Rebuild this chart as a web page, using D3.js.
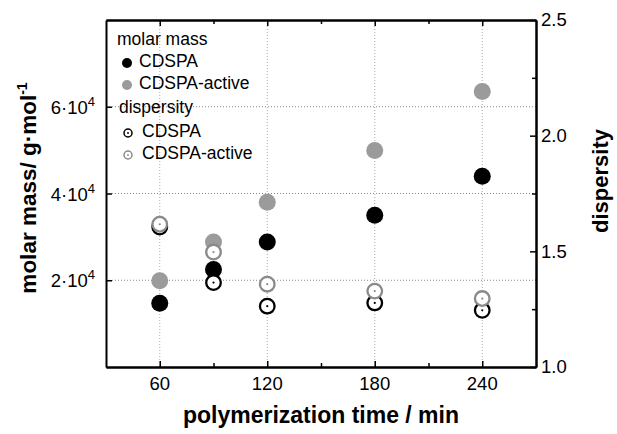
<!DOCTYPE html>
<html>
<head>
<meta charset="utf-8">
<script src="https://cdn.jsdelivr.net/npm/d3@7"></script>
<style>
  body { margin: 0; background: #fff; }
  svg { font-family: "Liberation Sans", Arial, sans-serif; }
  .axis path, .axis line { stroke: #000; }
</style>
</head>
<body>
<div id="chart"></div>
<script>
// data
var times = [60, 90, 120, 180, 240];
var massCDSPA = [14700, 22500, 28800, 35000, 44000];
var massActive = [19900, 28800, 38000, 49900, 63500];
var dispCDSPA = [1.605, 1.365, 1.263, 1.277, 1.245];
var dispActive = [1.617, 1.497, 1.358, 1.328, 1.296];

var xMajor = [60, 120, 180, 240];
var xMinor = [90, 150, 210];
var massTicks = [20000, 40000, 60000];
var dispTicks = [1.0, 1.5, 2.0, 2.5];
var dispMinor = [1.25, 1.75, 2.25];

var W = 617, H = 434;
var margin = {top: 20, right: 81, bottom: 67, left: 106};
var width = W - margin.left - margin.right,
    height = H - margin.top - margin.bottom;

var svg = d3.select("#chart").append("svg")
    .attr("width", W)
    .attr("height", H);

var g = svg.append("g")
    .attr("transform", "translate(" + margin.left + "," + margin.top + ")");

var x = d3.scaleLinear().domain([30, 270]).range([0, width]);
var yL = d3.scaleLinear().domain([0, 80000]).range([height, 0]);
var yR = d3.scaleLinear().domain([1.0, 2.5]).range([height, 0]);

// grid
g.append("g").selectAll("line")
    .data(xMajor)
    .join("line")
    .attr("x1", d => x(d)).attr("x2", d => x(d))
    .attr("y1", 0).attr("y2", height)
    .attr("stroke", "#aaa")
    .attr("stroke-dasharray", "1,2");

g.append("g").selectAll("line")
    .data(massTicks)
    .join("line")
    .attr("x1", 0).attr("x2", width)
    .attr("y1", d => yL(d)).attr("y2", d => yL(d))
    .attr("stroke", "#888")
    .attr("stroke-dasharray", "1,2");

// axes (ticks inward)
function frameAxis(axis, transform) {
    var a = g.append("g")
        .attr("class", "axis")
        .attr("transform", transform)
        .call(axis);
    a.select(".domain").attr("stroke-width", 2);
    a.selectAll(".tick line").attr("stroke-width", 1.5);
    a.selectAll("text").remove();
    return a;
}

frameAxis(d3.axisBottom(x).tickValues(xMajor).tickSize(-6).tickSizeOuter(0), "translate(0," + height + ")");
frameAxis(d3.axisBottom(x).tickValues(xMinor).tickSize(-4).tickSizeOuter(0), "translate(0," + height + ")");
frameAxis(d3.axisTop(x).tickValues(xMajor).tickSize(-6).tickSizeOuter(0), "translate(0,0)");
frameAxis(d3.axisTop(x).tickValues(xMinor).tickSize(-4).tickSizeOuter(0), "translate(0,0)");
frameAxis(d3.axisLeft(yL).tickValues(massTicks).tickSize(-6).tickSizeOuter(0), "translate(0,0)");
frameAxis(d3.axisRight(yR).tickValues(dispTicks).tickSize(-6).tickSizeOuter(0), "translate(" + width + ",0)");
frameAxis(d3.axisRight(yR).tickValues(dispMinor).tickSize(-4).tickSizeOuter(0), "translate(" + width + ",0)");

// tick labels
g.append("g").selectAll("text")
    .data(xMajor)
    .join("text")
    .attr("x", d => x(d))
    .attr("y", height + 23)
    .attr("text-anchor", "middle")
    .style("font-size", "18.5px")
    .text(d => d);

var massLab = g.append("g").selectAll("text")
    .data(massTicks)
    .join("text")
    .attr("x", -11)
    .attr("y", d => yL(d) + 7)
    .attr("text-anchor", "end")
    .style("font-size", "18.5px");
massLab.append("tspan").text(d => (d / 10000) + "\u00b710");
massLab.append("tspan")
    .attr("dy", -8)
    .style("font-size", "13px")
    .text("4");

g.append("g").selectAll("text")
    .data(dispTicks)
    .join("text")
    .attr("x", width + 5)
    .attr("y", d => yR(d))
    .attr("dy", "0.35em")
    .style("font-size", "18.5px")
    .text(d => d3.format(".1f")(d));

// axis titles
svg.append("text")
    .attr("x", 321)
    .attr("y", 423)
    .attr("text-anchor", "middle")
    .style("font-size", "23px")
    .style("font-weight", "bold")
    .text("polymerization time / min");

var lt = svg.append("text")
    .attr("transform", "translate(36,188) rotate(-90)")
    .attr("text-anchor", "middle")
    .style("font-size", "22.5px")
    .style("font-weight", "bold");
lt.append("tspan").text("molar mass/ g\u00b7mol");
lt.append("tspan").attr("dy", -9).style("font-size", "14px").text("-1");

svg.append("text")
    .attr("transform", "translate(608,181) rotate(-90)")
    .attr("text-anchor", "middle")
    .style("font-size", "22px")
    .style("font-weight", "bold")
    .text("dispersity");

// points: molar mass (filled)
var pts = times.map((t, i) => ({t: t, mc: massCDSPA[i], ma: massActive[i], dc: dispCDSPA[i], da: dispActive[i]}));

g.append("g").selectAll("circle")
    .data(pts)
    .join("circle")
    .attr("cx", d => x(d.t))
    .attr("cy", d => yL(d.ma))
    .attr("r", 8.5)
    .attr("fill", "#9b9b9b");

g.append("g").selectAll("circle")
    .data(pts)
    .join("circle")
    .attr("cx", d => x(d.t))
    .attr("cy", d => yL(d.mc))
    .attr("r", 8.5)
    .attr("fill", "#000");

// points: dispersity (open with centre dot)
function openPoints(key, color) {
    var pg = g.append("g");
    pg.selectAll("circle.ring")
        .data(pts)
        .join("circle")
        .attr("class", "ring")
        .attr("cx", d => x(d.t))
        .attr("cy", d => yR(d[key]))
        .attr("r", 7.3)
        .attr("fill", "#fff")
        .attr("stroke", color)
        .attr("stroke-width", 2.3);
    pg.selectAll("circle.dot")
        .data(pts)
        .join("circle")
        .attr("class", "dot")
        .attr("cx", d => x(d.t))
        .attr("cy", d => yR(d[key]))
        .attr("r", 1.1)
        .attr("fill", color);
}
openPoints("dc", "#000");
openPoints("da", "#8a8a8a");

// legend
var legend = svg.append("g").style("font-size", "17.5px");
legend.append("text").attr("x", 117).attr("y", 45).text("molar mass");
legend.append("circle").attr("cx", 127).attr("cy", 63).attr("r", 5).attr("fill", "#000");
legend.append("text").attr("x", 139).attr("y", 67).text("CDSPA");
legend.append("circle").attr("cx", 127).attr("cy", 85).attr("r", 5).attr("fill", "#9b9b9b");
legend.append("text").attr("x", 139).attr("y", 89).text("CDSPA-active");
legend.append("text").attr("x", 119).attr("y", 113).text("dispersity");
legend.append("circle").attr("cx", 128).attr("cy", 133).attr("r", 4).attr("fill", "#fff").attr("stroke", "#000").attr("stroke-width", 1.5);
legend.append("circle").attr("cx", 128).attr("cy", 133).attr("r", 0.9).attr("fill", "#000");
legend.append("text").attr("x", 142).attr("y", 137).text("CDSPA");
legend.append("circle").attr("cx", 128).attr("cy", 155).attr("r", 4).attr("fill", "#fff").attr("stroke", "#8a8a8a").attr("stroke-width", 1.5);
legend.append("circle").attr("cx", 128).attr("cy", 155).attr("r", 0.9).attr("fill", "#8a8a8a");
legend.append("text").attr("x", 142).attr("y", 159).text("CDSPA-active");
</script>
</body>
</html>
